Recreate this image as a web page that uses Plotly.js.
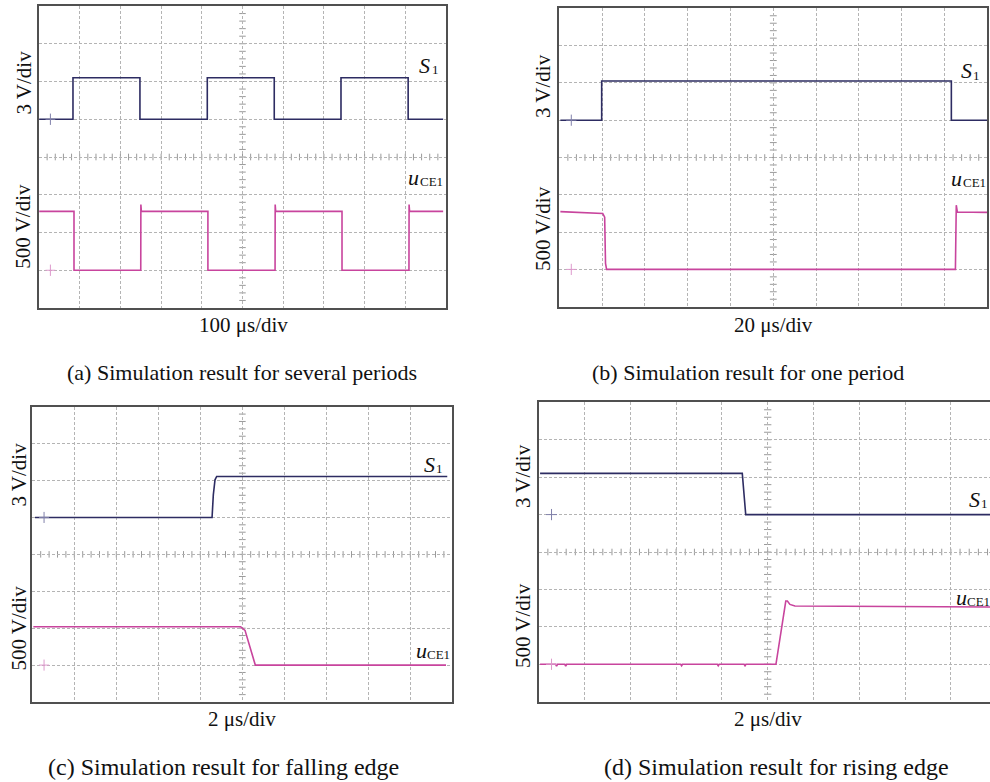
<!DOCTYPE html>
<html><head><meta charset="utf-8">
<script src="https://cdn.plot.ly/plotly-3.0.1.min.js"></script>
<style>html,body{margin:0;padding:0;overflow:hidden;background:#fff}#chart{width:1000px;height:782px}</style>
</head><body><div id="chart"></div>
<script>
// ---------- Data (time in µs, voltage in V) ----------
// (a) several periods, 100 µs/div
const aTimeS1 = [0.5, 83.5, 83.5, 248, 248, 413.5, 413.5, 578, 578, 742, 742, 907, 907, 993];
const aS1     = [0, 0, 3.3, 3.3, 0, 0, 3.3, 3.3, 0, 0, 3.3, 3.3, 0, 0];
const aTimeU  = [0.5, 86, 86, 250, 250.3, 251.5, 415, 415, 580, 580.3, 581.5, 744.5, 744.5, 909, 909.3, 910.5, 993];
const aU      = [780, 780, 0, 0, 870, 780, 780, 0, 0, 870, 780, 780, 0, 0, 870, 780, 780];
// (b) one period, 20 µs/div
const bTimeS1 = [0.5, 19.8, 19.8, 183.2, 183.2, 200];
const bS1     = [0, 0, 3.15, 3.15, 0, 0];
const bTimeU  = [0.5, 19.0, 20.3, 21.2, 21.6, 22.1, 185.1, 185.5, 186.0, 200];
const bU      = [775, 752, 750, 700, 80, 0, 0, 860, 770, 765];
// (c) falling edge, 2 µs/div
const cTimeS1 = [0.13, 8.56, 8.62, 8.70, 8.78, 19.76];
const cS1     = [0, 0, 1.83, 3.06, 3.33, 3.33];
const cTimeU  = [0.05, 9.92, 10.13, 10.29, 10.45, 10.62, 19.7];
const cU      = [520, 520, 470, 313, 132, 0, 0];
// (d) rising edge, 2 µs/div
const dTimeS1 = [0.06, 8.89, 9.04, 19.8];
const dS1     = [3.3, 3.3, 0, 0];
const dTimeU  = [0.06, 0.74, 0.78, 0.82, 1.14, 1.18, 1.22, 6.20, 6.24, 6.28, 7.80, 7.84, 7.88, 8.97, 9.01, 9.05, 10.36, 10.57, 10.66, 10.79, 10.86, 10.97, 11.19, 19.8];
const dU      = [0, 0, -25, 0, 0, -25, 0, 0, -20, 0, 0, -20, 0, 0, -20, 0, 0, 395, 540, 845, 845, 800, 778, 765];

const timePerDiv = [100, 20, 2, 2];
const s1VoltsPerDiv = 3;
const uVoltsPerDiv = 500;
const captions = ['(a) Simulation result for several periods', '(b) Simulation result for one period',
                  '(c) Simulation result for falling edge', '(d) Simulation result for rising edge'];
const timeLabels = ['100 μs/div', '20 μs/div', '2 μs/div', '2 μs/div'];

// ---------- Layout geometry (pixels) ----------
const W = 1000, H = 782;
const boxes = [ // [left, right, top, bottom]
  [39, 446, 6, 308],
  [559.3, 987.3, 8.3, 306.7],
  [32.3, 452.3, 406.7, 702],
  [538.7, 996.7, 402.3, 701.7]
];
const px = v => v / W, py = v => 1 - v / H;

const series = [
  [aTimeS1, aS1, aTimeU, aU],
  [bTimeS1, bS1, bTimeU, bU],
  [cTimeS1, cS1, cTimeU, cU],
  [dTimeS1, dS1, dTimeU, dU]
];

const NAVY = '#2d2c62', MAG = '#c8449d', GRID = '#b4b4b4', FRAME = '#505050';
const FONT = 'Liberation Serif, Times New Roman, serif';

const traces = [], layout = {
  width: W, height: H, margin: {l: 0, r: 0, t: 0, b: 0},
  paper_bgcolor: '#fff', plot_bgcolor: '#fff', showlegend: false,
  shapes: [], annotations: []
};

for (let i = 0; i < 4; i++) {
  const n = i + 1, sfx = n === 1 ? '' : String(n);
  const [L, R, T, B] = boxes[i];
  const xa = 'x' + sfx, ya = 'y' + sfx, ya2 = 'y' + (n + 4);
  layout['xaxis' + sfx] = {
    domain: [px(L), px(R)], range: [0, 10 * timePerDiv[i]], dtick: timePerDiv[i], tick0: 0,
    anchor: ya, showgrid: true, gridcolor: GRID, griddash: '3px,2px', gridwidth: 1,
    showline: true, mirror: true, linecolor: FRAME, linewidth: 2,
    ticks: '', showticklabels: false, zeroline: false, fixedrange: true
  };
  layout['yaxis' + sfx] = {
    domain: [py(B), py(T)], range: [-5 * s1VoltsPerDiv, 3 * s1VoltsPerDiv], dtick: s1VoltsPerDiv, tick0: 0,
    anchor: xa, showgrid: true, gridcolor: GRID, griddash: '3px,2px', gridwidth: 1,
    showline: true, mirror: true, linecolor: FRAME, linewidth: 2,
    ticks: '', showticklabels: false, zeroline: false, fixedrange: true
  };
  layout['yaxis' + (n + 4)] = {
    overlaying: ya, anchor: xa, range: [-1 * uVoltsPerDiv, 7 * uVoltsPerDiv],
    showgrid: false, showline: false, showticklabels: false, ticks: '', zeroline: false, fixedrange: true
  };
  const [tS, vS, tU, vU] = series[i];
  traces.push({x: tS, y: vS, xaxis: xa, yaxis: ya, type: 'scatter', mode: 'lines',
               line: {color: NAVY, width: 1.6}, hoverinfo: 'skip'});
  traces.push({x: tU, y: vU, xaxis: xa, yaxis: ya2, type: 'scatter', mode: 'lines',
               line: {color: MAG, width: 1.6}, hoverinfo: 'skip'});

  // center-line minor ticks
  for (let k = 1; k < 50; k++) {
    layout.shapes.push({type: 'line', xref: xa + ' domain', yref: ya + ' domain', layer: 'below',
      x0: k / 50, x1: k / 50, y0: 0.5 - 0.011, y1: 0.5 + 0.011, line: {color: '#9a9a9a', width: 1}});
  }
  for (let k = 1; k < 40; k++) {
    layout.shapes.push({type: 'line', xref: xa + ' domain', yref: ya + ' domain', layer: 'below',
      x0: 0.5 - 0.008, x1: 0.5 + 0.008, y0: k / 40, y1: k / 40, line: {color: '#9a9a9a', width: 1}});
  }
  // ground reference markers "+"
  const mx = 0.028;
  layout.shapes.push({type: 'line', xref: xa + ' domain', yref: ya, x0: mx, x1: mx, y0: -0.45, y1: 0.45, line: {color: '#8080aa', width: 1}});
  layout.shapes.push({type: 'line', xref: xa + ' domain', yref: ya, x0: mx - 0.012, x1: mx + 0.012, y0: 0, y1: 0, line: {color: '#8080aa', width: 1}});
  layout.shapes.push({type: 'line', xref: xa + ' domain', yref: ya2, x0: mx, x1: mx, y0: -75, y1: 75, line: {color: '#dd99cc', width: 1}});
  layout.shapes.push({type: 'line', xref: xa + ' domain', yref: ya2, x0: mx - 0.012, x1: mx + 0.012, y0: 0, y1: 0, line: {color: '#dd99cc', width: 1}});
}

// ---------- Text ----------
function ann(text, x, y, size, opts, fontExtra) {
  layout.annotations.push(Object.assign({text: text, x: px(x), y: py(y), xref: 'paper', yref: 'paper',
    xanchor: 'center', yanchor: 'middle', showarrow: false, borderpad: 0,
    font: Object.assign({family: FONT, size: size, color: '#111'}, fontExtra || {})}, opts || {}));
}
// signal names: italic main letter + upright subscript (left edge x, baseline y)
function sigLabel(main, sub, xl, base, subX) {
  ann(main, xl, base - 7, 22, {xanchor: 'left'}, {style: 'italic'});
  ann(sub, subX, base - 2.5, 13, {xanchor: 'left'});
}
sigLabel('S', '1', 418, 72, 431);
sigLabel('u', 'CE1', 407, 184, 419);
sigLabel('S', '1', 960, 78, 972);
sigLabel('u', 'CE1', 950, 185, 961.5);
sigLabel('S', '1', 422.5, 471, 434.5);
sigLabel('u', 'CE1', 415, 657, 426);
sigLabel('S', '1', 968, 506, 980);
sigLabel('u', 'CE1', 955, 604, 966);
// vertical scale labels
const vl = [[23, 82.5, 226.7], [543, 86, 229], [18.5, 475, 628], [523, 476, 626]];
vl.forEach(v => {
  ann(s1VoltsPerDiv + ' V/div', v[0], v[1], 21, {textangle: -90});
  ann(uVoltsPerDiv + ' V/div', v[0], v[2], 21, {textangle: -90});
});
// time scale labels
ann(timeLabels[0], 243, 325, 21); ann(timeLabels[1], 773, 325, 21);
ann(timeLabels[2], 241.7, 719, 21); ann(timeLabels[3], 768, 719, 21);
// captions
ann(captions[0], 242, 372, 22); ann(captions[1], 748, 372, 22);
ann(captions[2], 223, 767, 24); ann(captions[3], 776, 767, 24);

Plotly.newPlot('chart', traces, layout, {staticPlot: true, displayModeBar: false});
</script></body></html>
